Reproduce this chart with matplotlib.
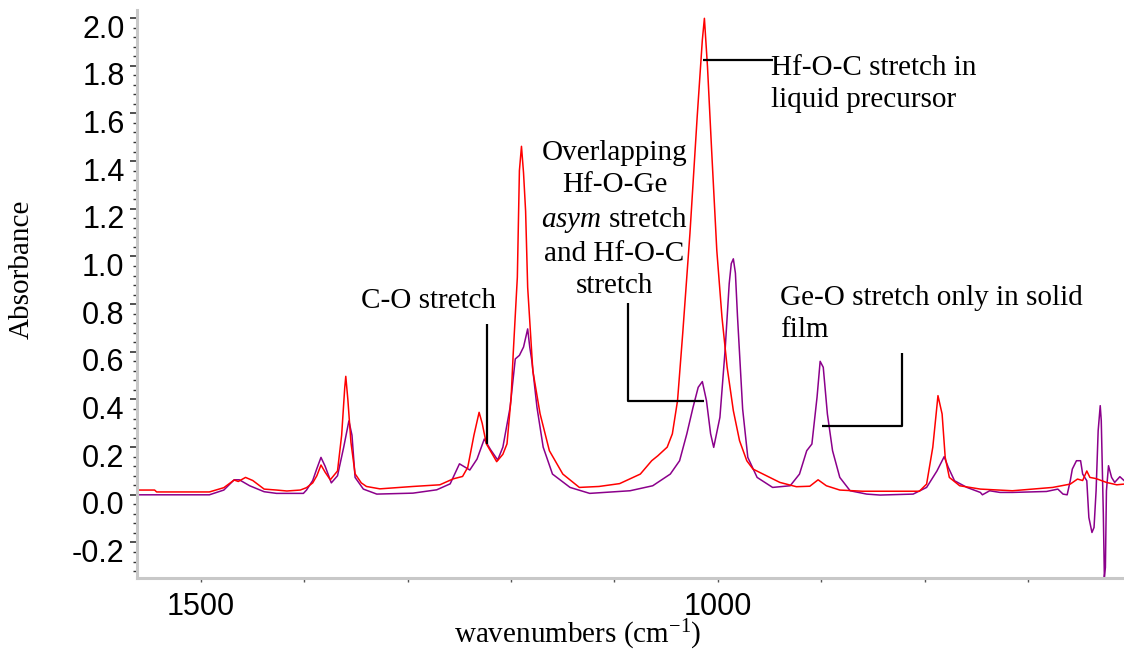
import numpy as np
import matplotlib
matplotlib.use("Agg")
import matplotlib.pyplot as plt
from matplotlib.ticker import FixedLocator, MultipleLocator, FuncFormatter
from matplotlib.transforms import ScaledTranslation

plt.rcParams['font.family'] = ['Liberation Sans', 'DejaVu Sans']
plt.rcParams['mathtext.fontset'] = 'custom'
plt.rcParams['mathtext.rm'] = 'Liberation Serif'
plt.rcParams['mathtext.it'] = 'Liberation Serif:italic'

# ── Spectra: wavenumber (cm-1) / absorbance ───────────────────────────────────
liquid_wn = [1562, 1545, 1543, 1492, 1478, 1468, 1464, 1457, 1450, 1439, 1427,
             1417, 1404, 1398, 1392, 1388, 1384, 1380, 1375, 1368, 1364, 1361,
             1360, 1358, 1355, 1351, 1345, 1340, 1327, 1295, 1269, 1256, 1247,
             1242, 1236, 1231, 1228, 1224, 1214, 1208, 1204, 1200, 1198, 1194,
             1192, 1190, 1188, 1186, 1184, 1179, 1172, 1163, 1150, 1134, 1115,
             1095, 1075, 1064, 1058, 1049, 1044, 1039, 1034, 1027, 1020, 1015,
             1013, 1010, 1006, 1001, 996, 991, 985, 979, 972, 966, 953, 940,
             924, 911, 903, 895, 882, 860, 805, 798, 792, 787, 783, 780, 776,
             766, 746, 715, 676, 659, 652, 647, 643, 640, 634, 624, 614, 607]
liquid_abs = [0.02, 0.02, 0.012, 0.012, 0.03, 0.062, 0.056, 0.073, 0.06, 0.024,
              0.02, 0.016, 0.02, 0.03, 0.05, 0.08, 0.125, 0.095, 0.063, 0.1,
              0.25, 0.45, 0.497, 0.40, 0.22, 0.088, 0.05, 0.035, 0.025, 0.035,
              0.042, 0.067, 0.077, 0.115, 0.25, 0.346, 0.30, 0.214, 0.139,
              0.17, 0.214, 0.41, 0.592, 0.913, 1.36, 1.462, 1.35, 1.19, 0.87,
              0.52, 0.34, 0.185, 0.087, 0.031, 0.035, 0.047, 0.087, 0.143,
              0.164, 0.20, 0.256, 0.395, 0.676, 1.096, 1.585, 1.908, 1.999,
              1.795, 1.445, 1.025, 0.745, 0.535, 0.353, 0.227, 0.143, 0.108,
              0.08, 0.052, 0.034, 0.036, 0.063, 0.038, 0.02, 0.015, 0.015,
              0.045, 0.20, 0.416, 0.339, 0.157, 0.073, 0.038, 0.024, 0.017,
              0.031, 0.045, 0.066, 0.06, 0.10, 0.073, 0.068, 0.052, 0.042,
              0.045]

film_wn = [1562, 1492, 1478, 1468, 1463, 1453, 1439, 1427, 1401, 1398, 1392,
           1388, 1384, 1380, 1374, 1368, 1362, 1357, 1354, 1351, 1343, 1330,
           1295, 1272, 1259, 1250, 1240, 1233, 1226, 1220, 1213, 1208, 1201,
           1196, 1192, 1188, 1184, 1182, 1180, 1175, 1169, 1160, 1143, 1124,
           1085, 1063, 1046, 1037, 1030, 1024, 1019, 1015, 1011, 1007, 1004,
           998, 993, 989, 987, 985, 983, 981, 976, 971, 962, 947, 930, 921,
           914, 909, 904, 901, 898, 894, 889, 882, 872, 856, 843, 811, 798,
           788, 781, 777, 771, 759, 746, 744, 737, 727, 715, 682, 671, 666,
           662, 659, 657, 653, 649, 647, 643, 641, 638, 636, 634, 632, 630,
           629, 627, 626, 625, 624, 622, 619, 616, 611, 607]
film_abs = [0.0, 0.0, 0.02, 0.063, 0.063, 0.038, 0.013, 0.006, 0.006, 0.02,
            0.06, 0.11, 0.157, 0.12, 0.05, 0.08, 0.20, 0.31, 0.25, 0.073,
            0.024, 0.003, 0.007, 0.021, 0.046, 0.13, 0.104, 0.15, 0.234, 0.19,
            0.146, 0.20, 0.367, 0.57, 0.585, 0.62, 0.696, 0.62, 0.563, 0.367,
            0.20, 0.087, 0.031, 0.006, 0.017, 0.038, 0.087, 0.143, 0.256,
            0.367, 0.451, 0.475, 0.395, 0.256, 0.199, 0.325, 0.605, 0.886,
            0.97, 0.99, 0.93, 0.75, 0.36, 0.157, 0.073, 0.031, 0.038, 0.087,
            0.185, 0.213, 0.41, 0.56, 0.535, 0.339, 0.185, 0.073, 0.017,
            0.003, -0.001, 0.003, 0.031, 0.10, 0.16, 0.115, 0.059, 0.031,
            0.01, 0.0, 0.017, 0.01, 0.01, 0.014, 0.024, 0.003, 0.0, 0.059,
            0.108, 0.143, 0.143, 0.087, 0.059, -0.095, -0.158, -0.137, 0.017,
            0.269, 0.374, 0.311, -0.081, -0.345, -0.305, 0.017, 0.122, 0.073,
            0.052, 0.076, 0.06]

x_ticks = [1500, 1400, 1300, 1200, 1100, 1000, 900, 800, 700]
x_labels = {1500: '1500', 1000: '1000'}
y_ticks = [-0.2, 0.0, 0.2, 0.4, 0.6, 0.8, 1.0, 1.2, 1.4, 1.6, 1.8, 2.0]

# annotation text and leader lines (data coordinates)
notes = [
    ("C-O stretch", 1280, 0.815, 'center'),
    ("Overlapping\nHf-O-Ge\n$\\mathit{asym}$ stretch\nand Hf-O-C\nstretch", 1100, 1.155, 'center'),
    ("Hf-O-C stretch in\nliquid precursor", 949, 1.722, 'left'),
    ("Ge-O stretch only in solid\nfilm", 940, 0.76, 'left'),
]
leaders = [
    [(1223.5, 0.718), (1223.5, 0.214)],
    [(1087, 0.803), (1087, 0.395), (1013, 0.395)],
    [(1014.5, 1.824), (947, 1.824)],
    [(822, 0.594), (822, 0.29), (899, 0.29)],
]

fig = plt.figure(figsize=(11.24, 6.56), dpi=100)
ax = fig.add_axes([0.1219, 0.1189, 0.8781, 0.8659])

ax.plot(film_wn, film_abs, color='#8b008b', lw=1.1)
ax.plot(liquid_wn, liquid_abs, color='#ff0000', lw=1.1)

for pts in leaders:
    xs, ys = zip(*pts)
    ax.plot(xs, ys, color='black', lw=1.6, solid_capstyle='butt')

for txt, x, y, ha in notes:
    ax.text(x, y, txt, ha=ha, va='center', multialignment=ha,
            fontsize=21, family='Liberation Serif', linespacing=1.3)

ax.set_xlim(1562, 607)
ax.set_ylim(-0.349, 2.034)

for s in ['top', 'right']:
    ax.spines[s].set_visible(False)
for s in ['left', 'bottom']:
    ax.spines[s].set_color('#c8c8c8')
    ax.spines[s].set_linewidth(2.2)

ax.xaxis.set_major_locator(FixedLocator(x_ticks))
ax.xaxis.set_major_formatter(FuncFormatter(lambda v, p: x_labels.get(int(round(v)), '')))
ax.yaxis.set_major_locator(FixedLocator(y_ticks))
ax.yaxis.set_major_formatter(FuncFormatter(lambda v, p: f'{v:.1f}'))
ax.yaxis.set_minor_locator(MultipleLocator(0.04))

ax.tick_params(axis='x', length=3, width=1, color='#555555', pad=7, labelsize=22)
ax.tick_params(axis='y', which='major', length=5, width=1.2, color='#333333', pad=4, labelsize=22)
ax.tick_params(axis='y', which='minor', length=3, width=1, color='#333333')

offset = ScaledTranslation(0, -8 / 100, fig.dpi_scale_trans)
for lab in ax.get_yticklabels():
    lab.set_transform(lab.get_transform() + offset)

ax.set_ylabel('Absorbance', family='Liberation Serif', fontsize=21)
ax.yaxis.set_label_coords(-0.1165, 0.544)
ax.set_xlabel('wavenumbers (cm$^{\\mathrm{-1}}$)', family='Liberation Serif', fontsize=21)
ax.xaxis.set_label_coords(0.447, -0.100)
ax.xaxis.label.set_va('center')
ax.yaxis.label.set_va('center')

fig.savefig('out.png', dpi=100)
